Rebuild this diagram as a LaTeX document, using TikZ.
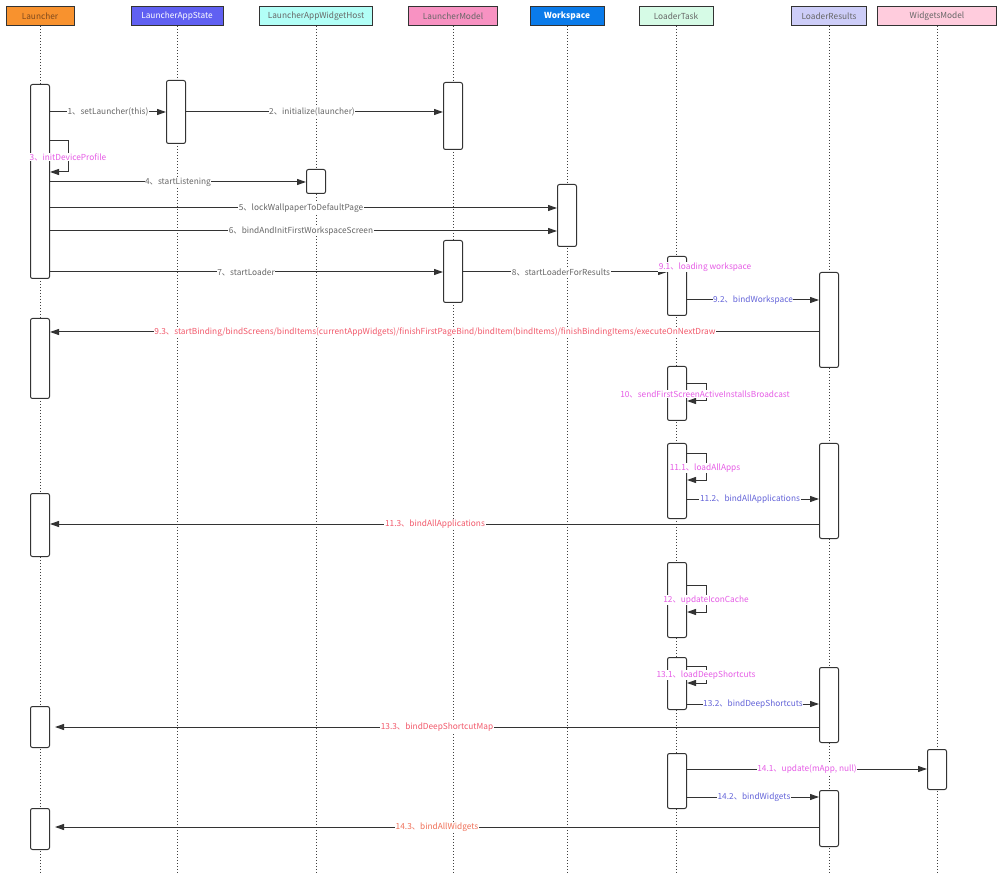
\documentclass[tikz,border=0pt]{standalone}
\usepackage{fontspec}
\setmainfont{Noto Sans CJK SC}
\usetikzlibrary{arrows.meta}
\definecolor{cLauncher}{HTML}{F8922E}
\definecolor{cLauncherTxt}{HTML}{7F4A1E}
\definecolor{cAppState}{HTML}{6060F2}
\definecolor{cHost}{HTML}{B2FFF7}
\definecolor{cModel}{HTML}{F892C2}
\definecolor{cWorkspace}{HTML}{0A7BEA}
\definecolor{cTask}{HTML}{D6FBE6}
\definecolor{cResults}{HTML}{CDCDF8}
\definecolor{cWidgets}{HTML}{FFCCDD}
\definecolor{tGray}{HTML}{666666}
\definecolor{tMag}{HTML}{E65CE6}
\definecolor{tBlue}{HTML}{6363D9}
\definecolor{tRed}{HTML}{F2596B}
\definecolor{tOrange}{HTML}{F07058}
\definecolor{lineC}{HTML}{333333}
\begin{document}
\begin{tikzpicture}[x=1pt,y=-1pt,
  font=\fontsize{8.3}{9.3}\selectfont,
  hdr/.style={draw=lineC, line width=0.8pt, minimum height=19pt, inner sep=0pt, text=tGray},
  life/.style={draw=black!75, dotted, line width=1pt},
  act/.style={draw=lineC, fill=white, rounded corners=2pt, line width=1pt, minimum width=19pt, inner sep=0pt, anchor=north},
  msg/.style={draw=lineC, line width=1pt, -{Triangle[length=9pt,width=6pt]}},
  lbl/.style={fill=white, inner sep=0.6pt},
  lg/.style={lbl, text=tGray},
  lm/.style={lbl, text=tMag},
  lb/.style={lbl, text=tBlue},
  lr/.style={lbl, text=tRed}
]
\useasboundingbox[fill=white] (0,0) rectangle (1007,874);

% headers
\node[hdr, fill=cLauncher, text=cLauncherTxt, minimum width=68pt] (hL) at (40,16) {Launcher};
\node[hdr, fill=cAppState, text=white, minimum width=92pt] (hS) at (177,16) {LauncherAppState};
\node[hdr, fill=cHost, minimum width=113pt] (hH) at (316,16) {LauncherAppWidgetHost};
\node[hdr, fill=cModel, minimum width=89pt] (hM) at (453,16) {LauncherModel};
\node[hdr, fill=cWorkspace, text=white, font=\fontsize{8.3}{9.3}\selectfont\bfseries, minimum width=74pt] (hW) at (567,16) {Workspace};
\node[hdr, fill=cTask, minimum width=74pt] (hT) at (676,16) {LoaderTask};
\node[hdr, fill=cResults, minimum width=75pt] (hR) at (829,16) {LoaderResults};
\node[hdr, fill=cWidgets, minimum width=119pt] (hG) at (937,16) {WidgetsModel};

% lifelines
\foreach \h in {hL,hS,hH,hM,hW,hT,hR,hG}{
  \draw[life] (\h.south) -- (\h.south |- 0,874);
}

% activation boxes
\node[act, minimum height=194pt] (a1) at (40,84) {};
\node[act, minimum height=80pt] (a2) at (40,318) {};
\node[act, minimum height=63pt] (a3) at (40,493) {};
\node[act, minimum height=41pt] (a4) at (40,706) {};
\node[act, minimum height=41pt] (a5) at (40,808) {};
\node[act, minimum height=63pt] (b1) at (176,80) {};
\node[act, minimum height=24pt] (c1) at (316,169) {};
\node[act, minimum height=67pt] (d1) at (453,82) {};
\node[act, minimum height=62pt] (d2) at (453,240) {};
\node[act, minimum height=62pt] (e1) at (567,184) {};
\node[act, minimum height=59pt] (f1) at (677,256) {};
\node[act, minimum height=54pt] (f2) at (677,366) {};
\node[act, minimum height=75pt] (f3) at (677,443) {};
\node[act, minimum height=75pt] (f4) at (677,562) {};
\node[act, minimum height=52pt] (f5) at (677,657) {};
\node[act, minimum height=55pt] (f6) at (677,753) {};
\node[act, minimum height=95pt] (g1) at (829,272) {};
\node[act, minimum height=95pt] (g2) at (829,443) {};
\node[act, minimum height=75pt] (g3) at (829,667) {};
\node[act, minimum height=56pt] (g4) at (829,790) {};
\node[act, minimum height=40pt] (h1) at (937,749) {};

% messages
\draw[msg] (a1.east |- 0,112) -- (b1.west |- 0,112);
\node[lg] (m1) at (108,112) {1、setLauncher(this)};
\draw[msg] (b1.east |- 0,112) -- (d1.west |- 0,112);
\node[lg] (m2) at (312,112) {2、initialize(launcher)};
\draw[msg] (a1.east |- 0,141) -- ++(18,0) |- (a1.east |- 0,172);
\node[lm] (m3) at (68,157) {3、initDeviceProfile};
\draw[msg] (a1.east |- 0,182) -- (c1.west |- 0,182);
\node[lg] (m4) at (178,182) {4、startListening};
\draw[msg] (a1.east |- 0,208) -- (e1.west |- 0,208);
\node[lg] (m5) at (301,208) {5、lockWallpaperToDefaultPage};
\draw[msg] (a1.east |- 0,231) -- (e1.west |- 0,231);
\node[lg] (m6) at (301,231) {6、bindAndInitFirstWorkspaceScreen};
\draw[msg] (a1.east |- 0,272) -- (d2.west |- 0,272);
\node[lg] (m7) at (246,272) {7、startLoader};
\draw[msg] (d2.east |- 0,272) -- (f1.west |- 0,272);
\node[lg] (m8) at (561,272) {8、startLoaderForResults};
\node[lm] (m91) at (705,267) {9.1、loading workspace};
\draw[msg] (f1.east |- 0,300) -- (g1.west |- 0,300);
\node[lb] (m92) at (753,300) {9.2、bindWorkspace};
\draw[msg] (g1.west |- 0,332) -- (a2.east |- 0,332);
\node[lr] (m93) at (435,332) {9.3、startBinding/bindScreens/bindItems(currentAppWidgets)/finishFirstPageBind/bindItem(bindItems)/finishBindingItems/executeOnNextDraw};
\draw[msg] (f2.east |- 0,384) -- ++(19,0) |- (f2.east |- 0,401);
\node[lm] (m10) at (705,394) {10、sendFirstScreenActiveInstallsBroadcast};
\draw[msg] (f3.east |- 0,454) -- ++(19,0) |- (f3.east |- 0,480);
\node[lm] (m111) at (705,468) {11.1、loadAllApps};
\draw[msg] (f3.east |- 0,499) -- (g2.west |- 0,499);
\node[lb] (m112) at (750,499) {11.2、bindAllApplications};
\draw[msg] (g2.west |- 0,524) -- (a3.east |- 0,524);
\node[lr] (m113) at (435,524) {11.3、bindAllApplications};
\draw[msg] (f4.east |- 0,585) -- ++(19,0) |- (f4.east |- 0,612);
\node[lm] (m12) at (706,600) {12、updateIconCache};
\draw[msg] (f5.east |- 0,666) -- ++(19,0) |- (f5.east |- 0,683);
\node[lm] (m131) at (706,675) {13.1、loadDeepShortcuts};
\draw[msg] (f5.east |- 0,704) -- (g3.west |- 0,704);
\node[lb] (m132) at (753,704) {13.2、bindDeepShortcuts};
\draw[msg, shorten >=5pt] (g3.west |- 0,727) -- (a4.east |- 0,727);
\node[lr] (m133) at (437,727) {13.3、bindDeepShortcutMap};
\draw[msg] (f6.east |- 0,769) -- (h1.west |- 0,769);
\node[lm] (m141) at (807,769) {14.1、update(mApp, null)};
\draw[msg] (f6.east |- 0,797) -- (g4.west |- 0,797);
\node[lb] (m142) at (754,797) {14.2、bindWidgets};
\draw[msg, shorten >=5pt] (g4.west |- 0,827) -- (a5.east |- 0,827);
\node[lbl, text=tOrange] (m143) at (437,827) {14.3、bindAllWidgets};
\end{tikzpicture}
\end{document}
